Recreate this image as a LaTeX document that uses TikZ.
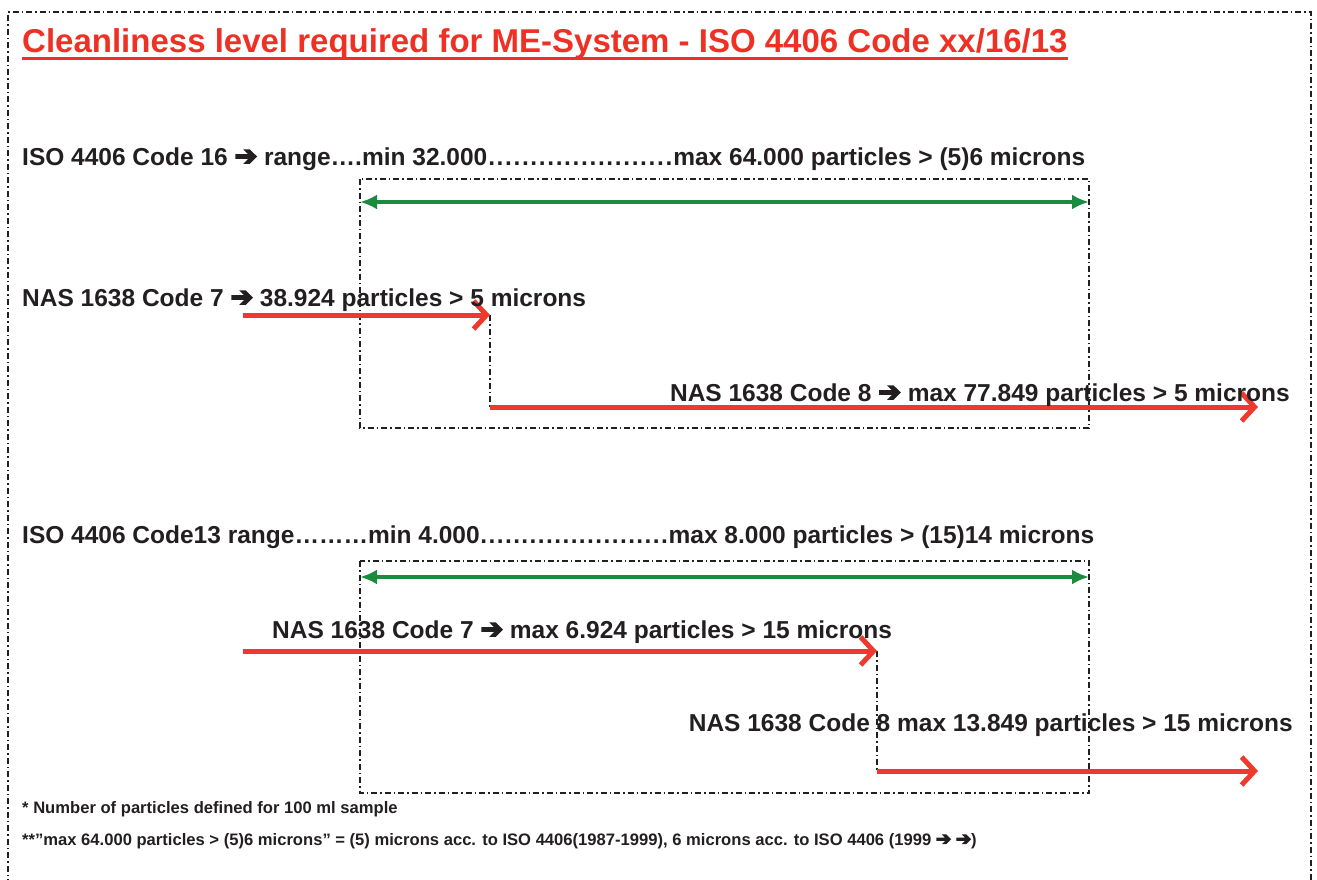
\documentclass[tikz,border=0pt]{standalone}
\usepackage{fontspec}
\setmainfont{Liberation Sans}
\newfontfamily\arrfont{DejaVu Sans Bold}[FakeBold=6,Scale=1.1]
\usetikzlibrary{arrows.meta}
\definecolor{ink}{HTML}{231F20}
\definecolor{titlered}{HTML}{EE3124}
\definecolor{arrred}{HTML}{EE3A2E}
\definecolor{arrgreen}{HTML}{1A8B3F}
\newcommand{\harr}{{\arrfont ➔}}
\newcommand{\dotsfill}{\xleaders\hbox to 0.333em{\hss.\hss}\hfill}
\begin{document}
\begin{tikzpicture}[x=1pt,y=-1pt,
  dd/.style={line width=1.4pt, dash pattern=on 6pt off 3pt on 1.5pt off 3pt, draw=ink},
  body/.style={font=\fontsize{24.5}{28}\selectfont\bfseries, text=ink, inner sep=0pt, anchor=base west},
  foot/.style={font=\fontsize{16.6}{19}\selectfont\bfseries, text=ink, inner sep=0pt, anchor=base west},
  greenarr/.style={draw=arrgreen, line width=4pt, {Latex[length=17pt,width=15pt]}-{Latex[length=17pt,width=15pt]}},
  redarr/.style={draw=arrred, line width=5pt, -{Straight Barb[length=13pt,width=28pt]}},
]
\useasboundingbox (0,0) rectangle (1317,879);
% outer border
\coordinate (ob1) at (8,885);
\coordinate (ob2) at (8,12);
\coordinate (ob3) at (1311,12);
\coordinate (ob4) at (1311,885);
\draw[dd] (ob1) -- (ob2) -- (ob3) -- (ob4);

% title
\node[font=\fontsize{33}{38}\selectfont\bfseries, text=titlered, inner sep=0pt, anchor=base west] (title) at (22,52)
  {Cleanliness level required for ME-System - ISO 4406 Code xx/16/13};
\draw[titlered, line width=3.5pt] ([yshift=-6.5pt]title.base west) -- ([yshift=-6.5pt]title.base east);

% ----- upper block -----
\draw[dd] (360,179) rectangle (1089,428);
\coordinate (g1l) at (360,202);
\coordinate (g1r) at (1089,202);
\draw[greenarr] (g1l) -- (g1r);

\coordinate (r1s) at (243,315);
\coordinate (r1e) at (490,315);
\coordinate (r2s) at (490,407);
\coordinate (r2e) at (1258,407);
\draw[dd] (r1e) -- (r2s);
\draw[redarr] (r1s) -- (r1e);
\draw[redarr] (r2s) -- (r2e);

\node[body] (iso16) at (22,165) {\makebox[1063pt][l]{ISO 4406 Code 16 \harr{} range….min 32.000\dotsfill max 64.000 particles > (5)6 microns}};
\node[body] (nas7a) at (22,306) {NAS 1638 Code 7 \harr{} 38.924 particles > 5 microns};
\node[body, anchor=base east] (nas8a) at (1290,401) {NAS 1638 Code 8 \harr{} max 77.849 particles > 5 microns};

% ----- lower block -----
\draw[dd] (360,561) rectangle (1089,793);
\coordinate (g2l) at (360,577);
\coordinate (g2r) at (1089,577);
\draw[greenarr] (g2l) -- (g2r);

\coordinate (r3s) at (243,651);
\coordinate (r3e) at (877,651);
\coordinate (r4s) at (877,771);
\coordinate (r4e) at (1258,771);
\draw[dd] (r3e) -- (r4s);
\draw[redarr] (r3s) -- (r3e);
\draw[redarr] (r4s) -- (r4e);

\node[body] (iso13) at (22,543) {\makebox[1072pt][l]{ISO 4406 Code13 range………min 4.000\dotsfill max 8.000 particles > (15)14 microns}};
\node[body] (nas7b) at (272,638) {NAS 1638 Code 7 \harr{} max 6.924 particles > 15 microns};
\node[body, anchor=base east] (nas8b) at (1293,731) {NAS 1638 Code 8 max 13.849 particles > 15 microns};

% footnotes
\node[foot] (fn1) at (22,813) {* Number of particles defined for 100 ml sample};
\node[foot] (fn2) at (22,845) {**”max 64.000 particles > (5)6 microns” = (5) microns acc. to ISO 4406(1987-1999), 6 microns acc. to ISO 4406 (1999 \harr{} \harr{})};
\end{tikzpicture}
\end{document}
